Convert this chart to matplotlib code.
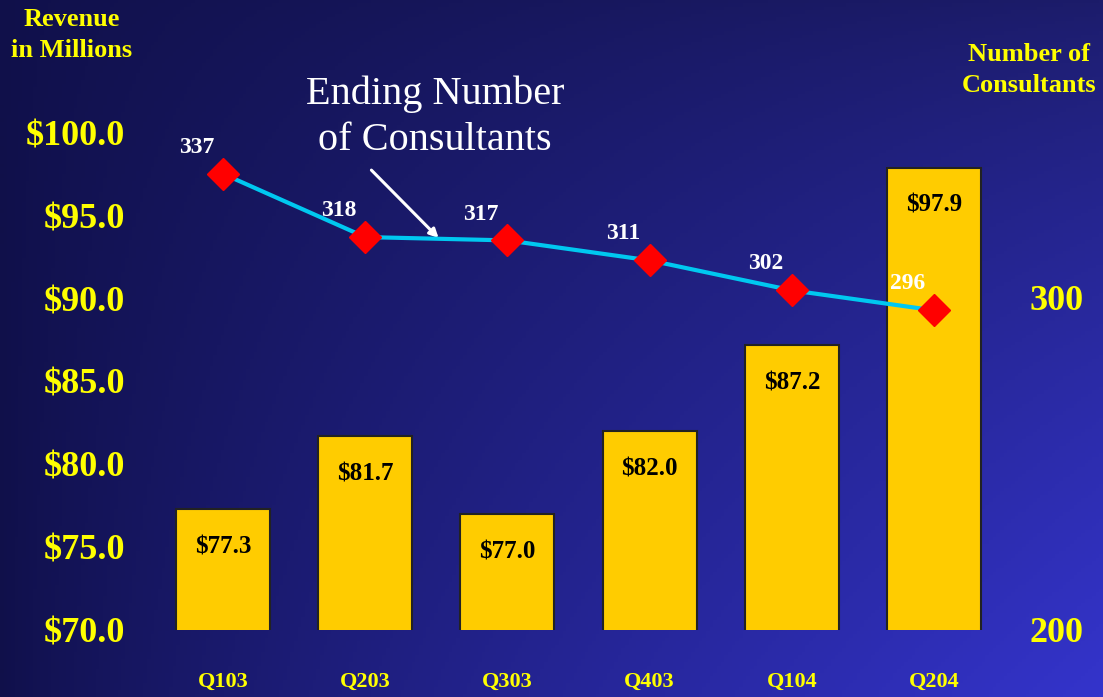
import numpy as np
import matplotlib.pyplot as plt

# Data
quarters = ["Q103", "Q203", "Q303", "Q403", "Q104", "Q204"]
revenue = [77.3, 81.7, 77.0, 82.0, 87.2, 97.9]
consultants = [337, 318, 317, 311, 302, 296]
rev_ticks = [70, 75, 80, 85, 90, 95, 100]
cons_ticks = [200, 300]

serif = "Liberation Serif"
yellow = "#FFFF00"

fig = plt.figure(figsize=(11.03, 6.97), dpi=100)

# Background gradient (dark navy on the left to brighter blue bottom right)
bg = fig.add_axes([0, 0, 1, 1])
h, w = 200, 300
u = np.linspace(0, 1, w)[None, :, None] ** 0.8
v = np.linspace(0, 1, h)[:, None, None] ** 0.8
tl = np.array([16, 16, 74]) / 255
tr = np.array([28, 28, 106]) / 255
bl = np.array([16, 16, 74]) / 255
br = np.array([52, 52, 204]) / 255
grad = tl * (1 - u) * (1 - v) + tr * u * (1 - v) + bl * (1 - u) * v + br * u * v
bg.imshow(grad, aspect="auto", extent=[0, 1, 0, 1])
bg.axis("off")

# Main axes (plot area in pixels: x 150..1010, y 100..630)
W, H = 1103, 697
ax = fig.add_axes([150 / W, (H - 630) / H, 860 / W, 530 / H])
ax.set_facecolor("none")
x = np.arange(len(quarters))

ax.bar(x, revenue, width=0.66, color="#FFCC00", edgecolor="#222222", linewidth=1.5)
for xi, val in zip(x, revenue):
    ax.annotate(f"${val:.1f}", (xi, val), xytext=(0, -27), textcoords="offset points",
                ha="center", va="center", fontsize=18, fontweight="bold",
                family=serif, color="black")

ax.set_xlim(-0.513, 5.534)
ax.set_ylim(70, 101.99)
ax.set_yticks(rev_ticks)
ax.set_yticklabels([f"${t:.1f}" for t in rev_ticks])
ax.set_xticks(x)
ax.set_xticklabels(quarters)
ax.tick_params(axis="y", length=0, pad=18, labelsize=26, labelcolor=yellow)
ax.tick_params(axis="x", length=0, pad=30, labelsize=16, labelcolor=yellow)
for lab in ax.get_yticklabels() + ax.get_xticklabels():
    lab.set_family(serif)
    lab.set_fontweight("bold")
for s in ax.spines.values():
    s.set_visible(False)

# Consultants line on the right axis
ax2 = ax.twinx()
ax2.plot(x, consultants, color="#00C8F0", linewidth=3, marker="D",
         markersize=16, markerfacecolor="#FF0000", markeredgecolor="#FF0000", zorder=5)
for xi, val in zip(x, consultants):
    ax2.annotate(str(val), (xi, val), xytext=(-19, 19), textcoords="offset points",
                 ha="center", va="center", fontsize=17, fontweight="bold",
                 family=serif, color="white")
ax2.set_ylim(200, 359.16)
ax2.set_yticks(cons_ticks)
ax2.tick_params(axis="y", length=0, pad=14, labelsize=26, labelcolor=yellow)
for lab in ax2.get_yticklabels():
    lab.set_family(serif)
    lab.set_fontweight("bold")
for s in ax2.spines.values():
    s.set_visible(False)

# Callout
ax2.text(1.49, 354.0, "Ending Number\nof Consultants", ha="center", va="center",
         fontsize=29, family=serif, color="white", linespacing=1.32)
ax2.annotate("", xy=(1.53, 317.1), xytext=(1.03, 338.7),
             arrowprops=dict(arrowstyle="-|>", color="white", lw=2.2, mutation_scale=13))

# Axis titles
fig.text(72 / W, 1 - 35 / H, "Revenue\nin Millions", ha="center", va="center",
         fontsize=19, fontweight="bold", family=serif, color=yellow, linespacing=1.45)
fig.text(1029 / W, 1 - 70 / H, "Number of\nConsultants", ha="center", va="center",
         fontsize=19, fontweight="bold", family=serif, color=yellow, linespacing=1.4)

fig.savefig("out.png", dpi=100)
